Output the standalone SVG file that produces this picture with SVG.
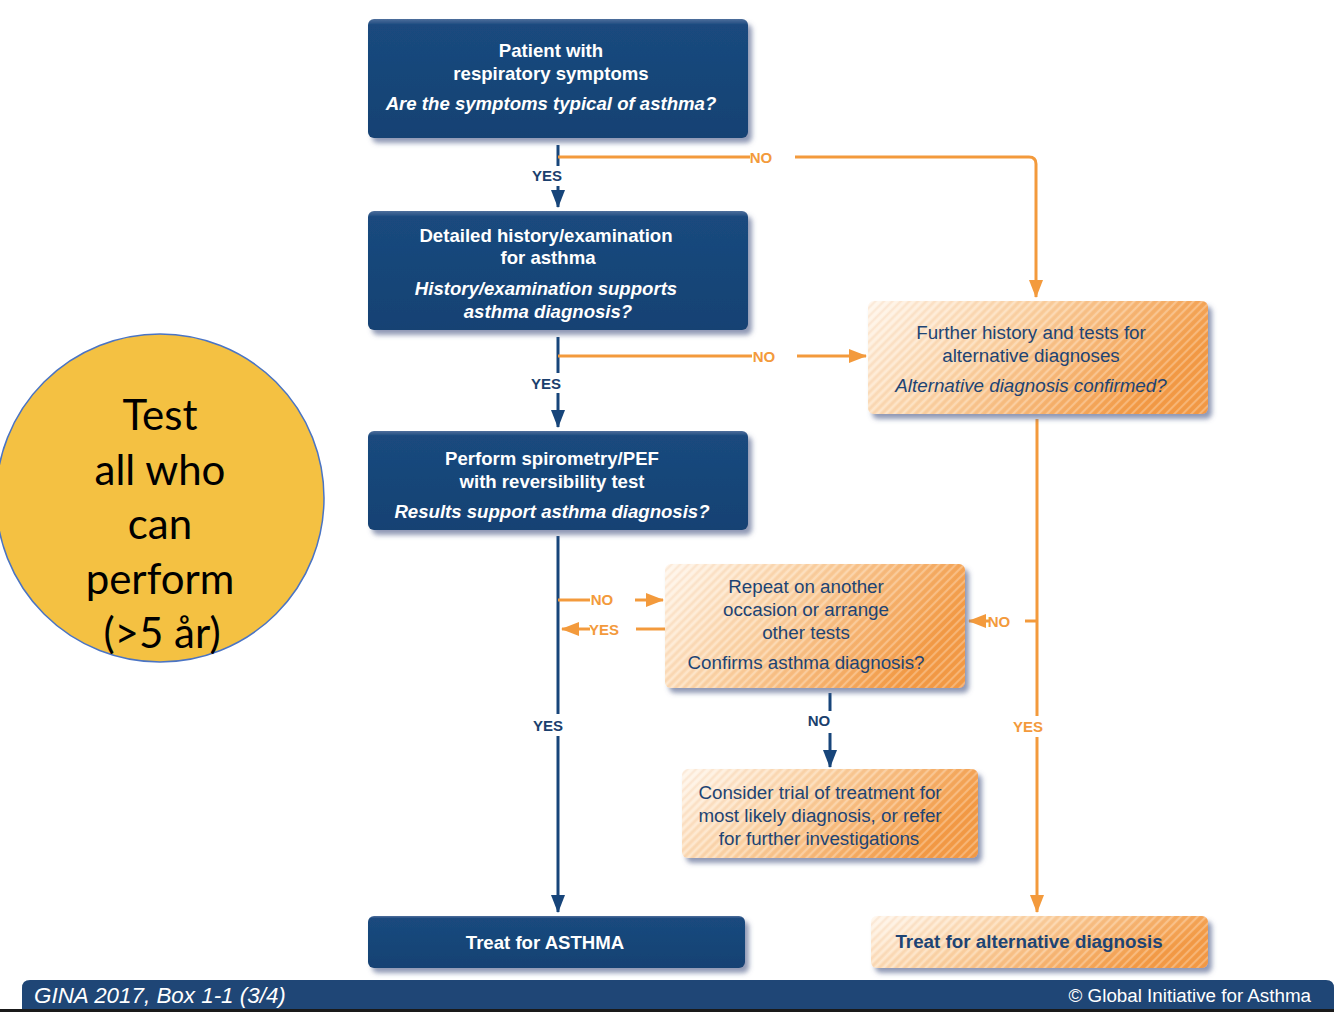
<svg xmlns="http://www.w3.org/2000/svg" width="1334" height="1012" viewBox="0 0 1334 1012">
<defs>
<linearGradient id="navyG" x1="0" y1="0" x2="0" y2="1">
<stop offset="0" stop-color="#4f6f9c"/><stop offset="0.05" stop-color="#1a497e"/><stop offset="1" stop-color="#154273"/>
</linearGradient>
<linearGradient id="orG" x1="0" y1="0" x2="1" y2="0.35">
<stop offset="0" stop-color="#fff6ec"/><stop offset="0.45" stop-color="#fbd3a6"/><stop offset="1" stop-color="#f39a44"/>
</linearGradient>
<pattern id="stripes" width="6" height="6" patternUnits="userSpaceOnUse" patternTransform="rotate(45)">
<line x1="1" y1="0" x2="1" y2="6" stroke="#ffffff" stroke-width="1.5" opacity="0.35"/>
<line x1="4" y1="0" x2="4" y2="6" stroke="#d9843a" stroke-width="0.8" opacity="0.22"/>
</pattern>
<filter id="sh" x="-5%" y="-10%" width="115%" height="130%">
<feDropShadow dx="4" dy="5" stdDeviation="2.5" flood-color="#55648e" flood-opacity="0.65"/>
</filter>
<marker id="aN" markerUnits="userSpaceOnUse" markerWidth="18" markerHeight="14" refX="17" refY="7" orient="auto">
<path d="M0,0 L18,7 L0,14 z" fill="#17457a"/>
</marker>
<marker id="aO" markerUnits="userSpaceOnUse" markerWidth="18" markerHeight="14" refX="17" refY="7" orient="auto">
<path d="M0,0 L18,7 L0,14 z" fill="#f39a3c"/>
</marker>
<style>
.nb{fill:url(#navyG);filter:url(#sh)}
.ob{fill:url(#orG);filter:url(#sh)}
.os{fill:url(#stripes)}
.wt{fill:#ffffff;font-family:"Liberation Sans",Arial,sans-serif;font-size:18.6px;font-weight:bold;text-anchor:middle}
.wi{font-style:italic}
.bt{fill:#1d4474;font-family:"Liberation Sans",Arial,sans-serif;font-size:18.8px;text-anchor:middle}
.bb{font-weight:bold}
.ln{fill:none;stroke:#17457a;stroke-width:3}
.lo{fill:none;stroke:#f39a3c;stroke-width:3}
.lbN{fill:#1b3f6e;font-family:"Liberation Sans",Arial,sans-serif;font-size:15px;font-weight:bold;text-anchor:middle}
.lbO{fill:#f39a3c;font-family:"Liberation Sans",Arial,sans-serif;font-size:15px;font-weight:bold;text-anchor:middle}
.ct{fill:#000000;font-family:Lato,"Open Sans",sans-serif;font-size:42px;text-anchor:middle}
</style>
</defs>
<rect width="1334" height="1012" fill="#ffffff"/>

<g id="circle">
<circle cx="160" cy="498" r="164" fill="#f4c142" stroke="#4a74c4" stroke-width="1.5"/>
<text class="ct" x="160" y="430">Test</text>
<text class="ct" x="160" y="485">all who</text>
<text class="ct" x="160" y="539">can</text>
<text class="ct" x="160" y="594">perform</text>
<text class="ct" x="162" y="648">(&gt;5 år)</text>
</g>

<g id="connectors">
<path class="ln" d="M558,145 V166"/>
<path class="ln" d="M558,186 V207" marker-end="url(#aN)"/>
<path class="lo" d="M558,157 H750"/>
<path class="lo" d="M795,157 H1029 Q1036,157 1036,164 V297" marker-end="url(#aO)"/>
<path class="ln" d="M558,337 V373"/>
<path class="ln" d="M558,393 V427" marker-end="url(#aN)"/>
<path class="lo" d="M558,356 H752"/>
<path class="lo" d="M797,356 H866" marker-end="url(#aO)"/>
<path class="ln" d="M558,536 V714"/>
<path class="ln" d="M558,736 V912" marker-end="url(#aN)"/>
<path class="lo" d="M558,600 H590"/>
<path class="lo" d="M635,600 H663" marker-end="url(#aO)"/>
<path class="lo" d="M665,629 H636"/>
<path class="lo" d="M590,629 H562" marker-end="url(#aO)"/>
<path class="lo" d="M1037,419 V716"/>
<path class="lo" d="M1037,737 V912" marker-end="url(#aO)"/>
<path class="lo" d="M1037,621 H1025"/>
<path class="lo" d="M989,621 H969" marker-end="url(#aO)"/>
<path class="ln" d="M830,693 V711"/>
<path class="ln" d="M830,733 V767" marker-end="url(#aN)"/>
<text class="lbN" x="547" y="181">YES</text>
<text class="lbO" x="761" y="163">NO</text>
<text class="lbN" x="546" y="389">YES</text>
<text class="lbO" x="764" y="362">NO</text>
<text class="lbN" x="548" y="731">YES</text>
<text class="lbO" x="602" y="605">NO</text>
<text class="lbO" x="604" y="635">YES</text>
<text class="lbO" x="999" y="627">NO</text>
<text class="lbO" x="1028" y="732">YES</text>
<text class="lbN" x="819" y="726">NO</text>
</g>

<g id="n1">
<rect class="nb" x="368" y="19" width="380" height="119" rx="6"/>
<text class="wt" x="551" y="57">Patient with</text>
<text class="wt" x="551" y="80">respiratory symptoms</text>
<text class="wt wi" x="551" y="110">Are the symptoms typical of asthma?</text>
</g>

<g id="n2">
<rect class="nb" x="368" y="211" width="380" height="119" rx="6"/>
<text class="wt" x="546" y="242">Detailed history/examination</text>
<text class="wt" x="548" y="264">for asthma</text>
<text class="wt wi" x="546" y="295">History/examination supports</text>
<text class="wt wi" x="548" y="318">asthma diagnosis?</text>
</g>

<g id="n3">
<rect class="nb" x="368" y="431" width="380" height="99" rx="6"/>
<text class="wt" x="552" y="465">Perform spirometry/PEF</text>
<text class="wt" x="552" y="488">with reversibility test</text>
<text class="wt wi" x="552" y="518">Results support asthma diagnosis?</text>
</g>

<g id="n4">
<rect class="nb" x="368" y="916" width="377" height="52" rx="6"/>
<text class="wt" x="545" y="949">Treat for ASTHMA</text>
</g>

<g id="nA">
<rect class="ob" x="868" y="301" width="340" height="113" rx="6"/>
<rect class="os" x="868" y="301" width="340" height="113" rx="6"/>
<text class="bt" x="1031" y="339">Further history and tests for</text>
<text class="bt" x="1031" y="362">alternative diagnoses</text>
<text class="bt wi" x="1031" y="392">Alternative diagnosis confirmed?</text>
</g>

<g id="nB">
<rect class="ob" x="665" y="564" width="300" height="124" rx="6"/>
<rect class="os" x="665" y="564" width="300" height="124" rx="6"/>
<text class="bt" x="806" y="593">Repeat on another</text>
<text class="bt" x="806" y="616">occasion or arrange</text>
<text class="bt" x="806" y="639">other tests</text>
<text class="bt" x="806" y="669">Confirms asthma diagnosis?</text>
</g>

<g id="nC">
<rect class="ob" x="682" y="769" width="296" height="89" rx="6"/>
<rect class="os" x="682" y="769" width="296" height="89" rx="6"/>
<text class="bt" x="820" y="799">Consider trial of treatment for</text>
<text class="bt" x="820" y="822">most likely diagnosis, or refer</text>
<text class="bt" x="819" y="845">for further investigations</text>
</g>

<g id="nD">
<rect class="ob" x="871" y="916" width="337" height="52" rx="6"/>
<rect class="os" x="871" y="916" width="337" height="52" rx="6"/>
<text class="bt bb" x="1029" y="948">Treat for alternative diagnosis</text>
</g>

<g id="footer">
<path d="M22,1012 V988 Q22,980 30,980 H1326 Q1334,980 1334,988 V1012 z" fill="#1f4676"/>
<rect x="0" y="1009" width="1334" height="3" fill="#1a1a1a"/>
<text x="34" y="1003" fill="#ffffff" font-family="'Liberation Sans',Arial,sans-serif" font-size="22.4" font-style="italic">GINA 2017, Box 1-1 (3/4)</text>
<text x="1311" y="1002" fill="#ffffff" font-family="'Liberation Sans',Arial,sans-serif" font-size="18.8" text-anchor="end">© Global Initiative for Asthma</text>
</g>
</svg>
